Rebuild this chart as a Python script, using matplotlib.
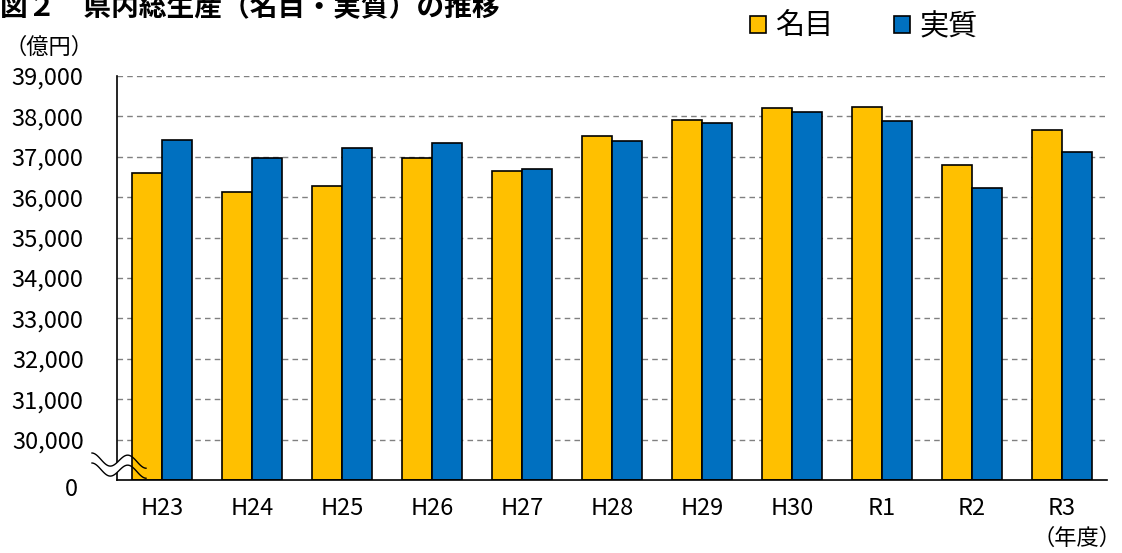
import numpy as np
import matplotlib
matplotlib.use("Agg")
import matplotlib.pyplot as plt
from matplotlib.patches import Patch
from matplotlib.lines import Line2D
from matplotlib.patches import Polygon

plt.rcParams['font.family'] = ['Noto Sans CJK JP', 'DejaVu Sans']

# data (億円)
years = ["H23", "H24", "H25", "H26", "H27", "H28", "H29", "H30", "R1", "R2", "R3"]
nominal = [36610, 36130, 36280, 36970, 36650, 37520, 37920, 38220, 38240, 36790, 37660]
real = [37410, 36980, 37230, 37340, 36690, 37400, 37830, 38100, 37890, 36240, 37120]
yticks = [30000, 31000, 32000, 33000, 34000, 35000, 36000, 37000, 38000, 39000]

W, H = 1122, 553
fig = plt.figure(figsize=(W / 100, H / 100), dpi=100)
ax = fig.add_axes([117 / W, 1 - 480 / H, 990 / W, 404 / H])

# broken axis: 0..30000 squeezed into one grid step
def fwd(v):
    v = np.asarray(v, dtype=float)
    return np.where(v >= 30000, v - 29000, v / 30)

def inv(y):
    y = np.asarray(y, dtype=float)
    return np.where(y >= 1000, y + 29000, y * 30)

ax.set_yscale('function', functions=(fwd, inv))

x = np.arange(len(years))
bw = 1 / 3
ax.bar(x - bw / 2, nominal, bw, color='#FFC000', edgecolor='black', linewidth=1.2, zorder=3)
ax.bar(x + bw / 2, real, bw, color='#0070C0', edgecolor='black', linewidth=1.2, zorder=3)

ax.set_xlim(-0.5, len(years) - 0.5)
ax.set_ylim(0, 39000)
ax.set_yticks(yticks)
ax.set_yticklabels([f"{v:,}" for v in yticks], fontsize=17)
ax.set_xticks(x)
ax.set_xticklabels(years, fontsize=17)
ax.tick_params(axis='y', length=0, pad=24)
ax.tick_params(axis='x', length=0, pad=12)
ax.grid(axis='y', color='#808080', linestyle=(0, (4, 3)), linewidth=1.0, zorder=0)

for s in ['top', 'right']:
    ax.spines[s].set_visible(False)
ax.spines['left'].set_linewidth(1.2)
ax.spines['bottom'].set_linewidth(1.2)
ax.spines['bottom'].set_zorder(4)

ax.annotate('0', xy=(0, 0), xycoords=('axes fraction', 'data'),
            xytext=(-39, -10), textcoords='offset pixels',
            ha='right', va='center', fontsize=17)

# break mark (white gap only over the spine, lines run into the first bar)
xs = np.linspace(92, 146, 100)
wave = 459 + 0.06 * (xs - 92) - 6 * np.cos(2 * np.pi * (xs - 92) / 36)
y1 = wave
y2 = wave + 10
m = xs <= 131
poly = np.column_stack([np.r_[xs[m], xs[m][::-1]], np.r_[y1[m], y2[m][::-1]]])
poly[:, 0] /= W
poly[:, 1] = 1 - poly[:, 1] / H
fig.add_artist(Polygon(poly, closed=True, facecolor='white', edgecolor='none',
                       transform=fig.transFigure, zorder=10))
for yy in (y1, y2):
    fig.add_artist(Line2D(xs / W, 1 - yy / H, color='black', linewidth=1.0,
                          transform=fig.transFigure, zorder=11))

# texts
fig.text(0.0, 1 - 15 / H, "図２　県内総生産（名目・実質）の推移",
         fontsize=20, fontweight='bold', ha='left', va='baseline')
fig.text(49 / W, 1 - 47 / H, "（億円）", fontsize=16, ha='center', va='center')
fig.text(1121 / W, 1 - 538 / H, "（年度）", fontsize=16, ha='right', va='center')

handles = [Patch(facecolor='#FFC000', edgecolor='black', linewidth=1.2, label='名目'),
           Patch(facecolor='#0070C0', edgecolor='black', linewidth=1.2, label='実質')]
fig.legend(handles=handles, loc='center left', bbox_to_anchor=(750 / W, 1 - 27 / H),
           ncol=2, frameon=False, fontsize=21, handlelength=0.55, handleheight=0.55,
           handletextpad=0.3, columnspacing=2.1, borderaxespad=0, borderpad=0)

fig.savefig("out.png", dpi=100)
